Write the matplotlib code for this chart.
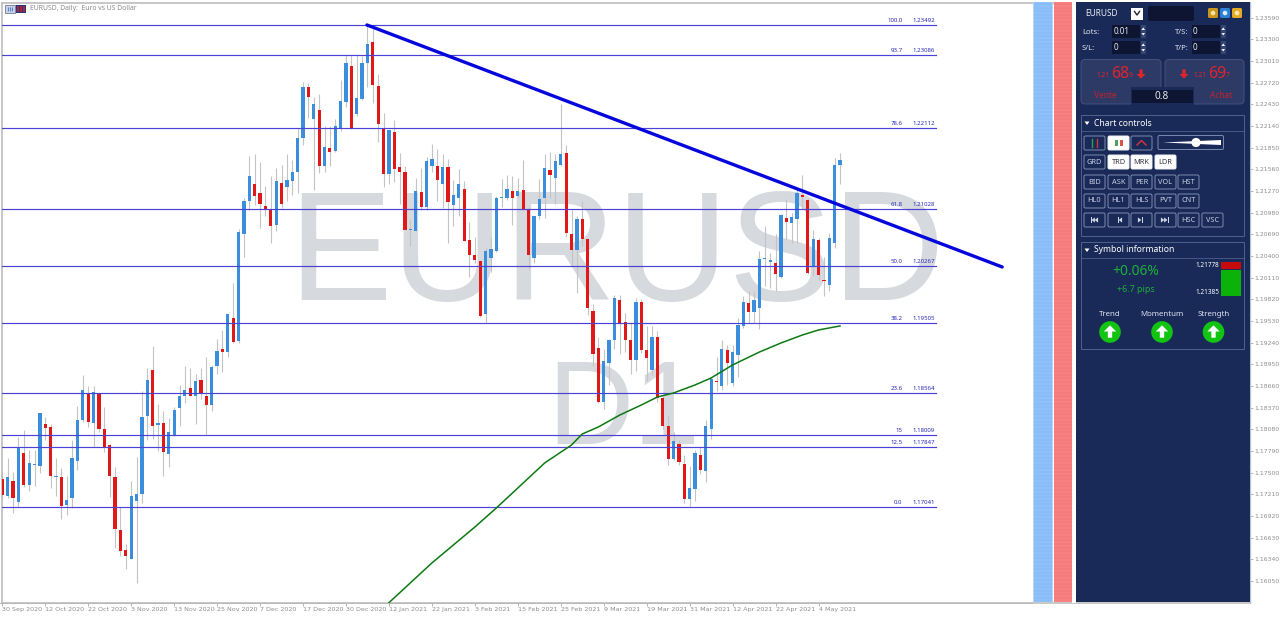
#!/usr/bin/env python3
"""EURUSD daily chart with fib levels, trend line and the trading side panel."""

from __future__ import annotations

import matplotlib

matplotlib.use("Agg")
import matplotlib.pyplot as plt
import numpy as np
from matplotlib.patches import Circle, FancyBboxPatch, Polygon, Rectangle

OPENS = [
    1.1742, 1.1719, 1.1739, 1.1711, 1.1777, 1.1733, 1.1760, 1.1759, 1.1815, 1.1811,
    1.1744, 1.1744, 1.1707, 1.1716, 1.1766, 1.1821, 1.1855, 1.1817, 1.1855, 1.1808,
    1.1787, 1.1744, 1.1673, 1.1646, 1.1634, 1.1712, 1.1722, 1.1826, 1.1888, 1.1814,
    1.1817, 1.1775, 1.1801, 1.1837, 1.1853, 1.1863, 1.1852, 1.1874, 1.1853, 1.1840,
    1.1893, 1.1915, 1.1911, 1.1957, 1.1926, 1.2069, 1.2113, 1.2137, 1.2124, 1.2107,
    1.2103, 1.2081, 1.2138, 1.2133, 1.2141, 1.2152, 1.2198, 1.2266, 1.2223, 1.2235,
    1.2161, 1.2184, 1.2181, 1.2210, 1.2246, 1.2294, 1.2230, 1.2250, 1.2298, 1.2327,
    1.2267, 1.2210, 1.2150, 1.2206, 1.2159, 1.2152, 1.2075, 1.2074, 1.2126, 1.2105,
    1.2161, 1.2161, 1.2137, 1.2159, 1.2108, 1.2118, 1.2130, 1.2061, 1.2041, 1.2033,
    1.1962, 1.2037, 1.2047, 1.2118, 1.2118, 1.2127, 1.2120, 1.2129, 1.2103, 1.2037,
    1.2093, 1.2118, 1.2155, 1.2145, 1.2162, 1.2178, 1.2070, 1.2048, 1.2089, 1.2063,
    1.1966, 1.1917, 1.1845, 1.1897, 1.1927, 1.1981, 1.1952, 1.1927, 1.1901, 1.1979,
    1.1914, 1.1887, 1.1932, 1.1850, 1.1813, 1.1768, 1.1789, 1.1762, 1.1715, 1.1728,
    1.1774, 1.1752, 1.1809, 1.1873, 1.1866, 1.1914, 1.1870, 1.1908, 1.1946, 1.1977,
    1.1965, 1.1971, 1.2036, 1.2032, 1.2030, 1.2012, 1.2091, 1.2084, 1.2090, 1.2122,
    1.2115, 1.2026, 1.2062, 1.2008, 1.2001, 1.2057, 1.2162,
]
HIGHS = [
    1.1751, 1.1769, 1.1751, 1.1798, 1.1807, 1.1781, 1.1781, 1.1830, 1.1825, 1.1815,
    1.1770, 1.1756, 1.1746, 1.1794, 1.1839, 1.1881, 1.1866, 1.1866, 1.1855, 1.1838,
    1.1789, 1.1758, 1.1704, 1.1654, 1.1739, 1.1771, 1.1859, 1.1890, 1.1920, 1.1842,
    1.1832, 1.1823, 1.1838, 1.1868, 1.1893, 1.1890, 1.1882, 1.1890, 1.1905, 1.1894,
    1.1929, 1.1941, 1.1963, 1.2004, 1.2076, 1.2118, 1.2174, 1.2177, 1.2166, 1.2134,
    1.2147, 1.2158, 1.2162, 1.2176, 1.2169, 1.2211, 1.2273, 1.2271, 1.2253, 1.2257,
    1.2214, 1.2214, 1.2223, 1.2275, 1.2309, 1.2309, 1.2309, 1.2307, 1.2349, 1.2345,
    1.2284, 1.2232, 1.2209, 1.2222, 1.2178, 1.2161, 1.2089, 1.2144, 1.2158, 1.2172,
    1.2190, 1.2183, 1.2176, 1.2170, 1.2142, 1.2156, 1.2140, 1.2086, 1.2065, 1.2035,
    1.2051, 1.2065, 1.2120, 1.2143, 1.2149, 1.2147, 1.2145, 1.2169, 1.2106, 1.2094,
    1.2143, 1.2176, 1.2179, 1.2176, 1.2243, 1.2188, 1.2101, 1.2094, 1.2113, 1.2064,
    1.1976, 1.1931, 1.1915, 1.1929, 1.1988, 1.1988, 1.1964, 1.1952, 1.1984, 1.1982,
    1.1946, 1.1946, 1.1940, 1.1852, 1.1827, 1.1804, 1.1794, 1.1774, 1.1759, 1.1780,
    1.1785, 1.1820, 1.1878, 1.1905, 1.1928, 1.1921, 1.1921, 1.1957, 1.1986, 1.1993,
    1.1993, 1.2047, 1.2080, 1.2044, 1.2069, 1.2096, 1.2116, 1.2098, 1.2131, 1.2149,
    1.2117, 1.2075, 1.2064, 1.2039, 1.2071, 1.2171, 1.2178,
]
LOWS = [
    1.1713, 1.1716, 1.1696, 1.1704, 1.1731, 1.1725, 1.1732, 1.1749, 1.1794, 1.1730,
    1.1719, 1.1688, 1.1693, 1.1703, 1.1754, 1.1818, 1.1811, 1.1785, 1.1804, 1.1778,
    1.1718, 1.1649, 1.1638, 1.1621, 1.1634, 1.1602, 1.1710, 1.1794, 1.1795, 1.1779,
    1.1745, 1.1758, 1.1799, 1.1813, 1.1843, 1.1852, 1.1815, 1.1849, 1.1800, 1.1832,
    1.1882, 1.1885, 1.1905, 1.1923, 1.1924, 1.2039, 1.2101, 1.2108, 1.2078, 1.2094,
    1.2058, 1.2073, 1.2104, 1.2114, 1.2121, 1.2124, 1.2189, 1.2225, 1.2129, 1.2151,
    1.2153, 1.2161, 1.2179, 1.2207, 1.2240, 1.2210, 1.2227, 1.2249, 1.2266, 1.2245,
    1.2192, 1.2132, 1.2136, 1.2139, 1.2110, 1.2075, 1.2053, 1.2073, 1.2102, 1.2102,
    1.2153, 1.2114, 1.2104, 1.2058, 1.2080, 1.2093, 1.2060, 1.2012, 1.2030, 1.1958,
    1.1951, 1.2019, 1.2046, 1.2106, 1.2115, 1.2081, 1.2119, 1.2103, 1.2022, 1.2030,
    1.2089, 1.2091, 1.2118, 1.2109, 1.2160, 1.2065, 1.2027, 1.1991, 1.2053, 1.1961,
    1.1893, 1.1843, 1.1835, 1.1867, 1.1915, 1.1909, 1.1911, 1.1882, 1.1886, 1.1910,
    1.1873, 1.1881, 1.1845, 1.1809, 1.1760, 1.1767, 1.1760, 1.1710, 1.1704, 1.1712,
    1.1748, 1.1737, 1.1795, 1.1859, 1.1860, 1.1868, 1.1866, 1.1878, 1.1944, 1.1951,
    1.1951, 1.1942, 1.2000, 1.1997, 1.1993, 1.2011, 1.2062, 1.2057, 1.2057, 1.2103,
    1.2016, 1.2013, 1.2008, 1.1986, 1.1993, 1.2051, 1.2136,
]
CLOSES = [
    1.1720, 1.1744, 1.1716, 1.1785, 1.1733, 1.1763, 1.1761, 1.1830, 1.1810, 1.1745,
    1.1745, 1.1706, 1.1713, 1.1770, 1.1821, 1.1860, 1.1818, 1.1858, 1.1808, 1.1784,
    1.1746, 1.1675, 1.1645, 1.1639, 1.1719, 1.1722, 1.1824, 1.1874, 1.1813, 1.1816,
    1.1778, 1.1804, 1.1834, 1.1853, 1.1860, 1.1853, 1.1873, 1.1855, 1.1840, 1.1892,
    1.1913, 1.1912, 1.1963, 1.1925, 1.2072, 1.2114, 1.2147, 1.2120, 1.2109, 1.2103,
    1.2080, 1.2140, 1.2110, 1.2142, 1.2152, 1.2198, 1.2266, 1.2253, 1.2243, 1.2161,
    1.2186, 1.2179, 1.2214, 1.2248, 1.2298, 1.2210, 1.2252, 1.2298, 1.2324, 1.2269,
    1.2216, 1.2150, 1.2208, 1.2157, 1.2153, 1.2075, 1.2076, 1.2127, 1.2106, 1.2167,
    1.2170, 1.2142, 1.2159, 1.2112, 1.2122, 1.2136, 1.2060, 1.2042, 1.2035, 1.1960,
    1.2047, 1.2049, 1.2118, 1.2119, 1.2130, 1.2118, 1.2127, 1.2103, 1.2041, 1.2093,
    1.2116, 1.2158, 1.2148, 1.2167, 1.2177, 1.2071, 1.2048, 1.2090, 1.2063, 1.1971,
    1.1909, 1.1845, 1.1900, 1.1928, 1.1984, 1.1951, 1.1927, 1.1901, 1.1979, 1.1914,
    1.1904, 1.1932, 1.1850, 1.1813, 1.1768, 1.1793, 1.1764, 1.1715, 1.1729, 1.1777,
    1.1754, 1.1813, 1.1875, 1.1871, 1.1915, 1.1897, 1.1911, 1.1948, 1.1979, 1.1965,
    1.1981, 1.2036, 1.2037, 1.2034, 1.2016, 1.2095, 1.2085, 1.2092, 1.2124, 1.2119,
    1.2017, 1.2063, 1.2014, 1.2006, 1.2064, 1.2162, 1.2169,
]

DATE_LABELS = [
    "30 Sep 2020", "12 Oct 2020", "22 Oct 2020", "3 Nov 2020", "13 Nov 2020",
    "25 Nov 2020", "7 Dec 2020", "17 Dec 2020", "30 Dec 2020", "12 Jan 2021",
    "22 Jan 2021", "3 Feb 2021", "15 Feb 2021", "25 Feb 2021", "9 Mar 2021",
    "19 Mar 2021", "31 Mar 2021", "12 Apr 2021", "22 Apr 2021", "4 May 2021",
]
PRICE_TICKS = [
    1.23590, 1.23300, 1.23010, 1.22720, 1.22430, 1.22140, 1.21850, 1.21560, 1.21270,
    1.20980, 1.20690, 1.20400, 1.20110, 1.19820, 1.19530, 1.19240, 1.18950, 1.18660,
    1.18370, 1.18080, 1.17790, 1.17500, 1.17210, 1.16920, 1.16630, 1.16340, 1.16050,
]

FIB_NAMES = ["100.0", "93.7", "78.6", "61.8", "50.0", "38.2", "23.6", "15", "12.5", "0.0"]
FIB_PRICES = [1.23492, 1.23086, 1.22112, 1.21028, 1.20267, 1.19505, 1.18564, 1.18009, 1.17847, 1.17041]

TREND_BARS = [67.9, 186.2]
TREND_PRICES = [1.23492, 1.20253]

MA_BARS = [72, 80, 88, 92, 96, 101, 106, 108, 111, 115, 119, 122, 125, 129, 132, 136, 141, 145, 149, 152, 156]
MA_PRICES = [
    1.15760, 1.16292, 1.16773, 1.17028, 1.17295, 1.17630, 1.17871, 1.18018, 1.18112, 1.18272, 1.18406,
    1.18513, 1.18567, 1.18674, 1.18768, 1.18942, 1.19115, 1.19236, 1.19343, 1.19410, 1.19464,
]

BUTTON_ROWS = [
    (155, ["GRD", "TRD", "MRK", "LDR"]),
    (175, ["BID", "ASK", "PER", "VOL", "HST"]),
    (194, ["HL0", "HL1", "HLS", "PVT", "CNT"]),
    (213, ["", "", "", "", "HSC", "VSC"]),
]
WHITE_BUTTONS = ["TRD", "MRK", "LDR"]
INDICATORS = ["Trend", "Momentum", "Strength"]

BLUE = "#3a8edb"
RED = "#e01818"
WICK = "#c4c4c4"
FIB = "#4a42d4"
NAVY = "#1a2a58"
INK = "#0d1533"
LINE = "#5a6a96"
PANEL_FONT = ["Noto Sans", "DejaVu Sans"]
CHART_FONT = "Liberation Sans"
BAR_PX = 5.37


def bar_at(px: float) -> float:
    return (px - 2.3) / BAR_PX


def draw_chart(ax: plt.Axes) -> None:
    ax.set_xlim(bar_at(2), bar_at(1250))
    ax.set_ylim(1.15756, 1.23786)

    # watermark sits under everything
    ax.text(bar_at(288), 1.17041 + (507 - 300) * 1.3384e-4, "EURUSD", family=CHART_FONT, fontsize=112,
            color="#d6d9de", ha="left", va="baseline", zorder=1)
    ax.text(bar_at(547), 1.17041 + (507 - 444) * 1.3384e-4, "D1", family=CHART_FONT, fontsize=86,
            color="#d6d9de", ha="left", va="baseline", zorder=1)

    bars = np.arange(len(OPENS))
    opens = np.array(OPENS)
    closes = np.array(CLOSES)
    colors = [BLUE if c >= o else RED for o, c in zip(opens, closes)]
    ax.vlines(bars, LOWS, HIGHS, color=WICK, lw=0.8, zorder=2)
    ax.bar(bars, np.abs(closes - opens), bottom=np.minimum(opens, closes), width=0.6, color=colors, lw=0, zorder=3)

    for name, price in zip(FIB_NAMES, FIB_PRICES):
        ax.plot([bar_at(2), bar_at(935.5)], [price, price], color=FIB, lw=0.85, zorder=4)
        ax.annotate(name, (bar_at(902.5), price), xytext=(0, 1.4), textcoords="offset points",
                    ha="right", va="bottom", fontsize=4.4, color="#2a2ab8", family=PANEL_FONT, zorder=7)
        ax.annotate(f"{price:.5f}", (bar_at(935), price), xytext=(0, 1.4), textcoords="offset points",
                    ha="right", va="bottom", fontsize=4.4, color="#2a2ab8", family=PANEL_FONT, zorder=7)

    ax.plot(MA_BARS, MA_PRICES, color="#0b7a12", lw=1.1, zorder=5)
    ax.plot(TREND_BARS, TREND_PRICES, color="#0606dc", lw=2.4, solid_capstyle="round", zorder=6)

    ax.yaxis.tick_right()
    ax.set_yticks(PRICE_TICKS)
    ax.set_yticklabels([f"{p:.5f}" for p in PRICE_TICKS])
    ax.tick_params(axis="y", length=2.2, width=0.6, color="#a8a8a8", labelsize=4.4, labelcolor="#8e8e8e", pad=1)
    ax.set_xticks(range(0, 8 * len(DATE_LABELS), 8))
    ax.set_xticklabels(DATE_LABELS, ha="left")
    ax.tick_params(axis="x", length=2.2, width=0.6, color="#a8a8a8", labelsize=4.6, labelcolor="#8e8e8e", pad=0.6)
    for side in ["top", "left", "bottom"]:
        ax.spines[side].set_color("#b8b8b8")
        ax.spines[side].set_linewidth(1.1)
    ax.spines["right"].set_color("#b9c6d8")
    ax.spines["right"].set_linewidth(1.0)


def rect(ui: plt.Axes, x0: float, y0: float, x1: float, y1: float, fc: str, ec: str = "none", lw: float = 0.7) -> None:
    ui.add_patch(Rectangle((x0, y0), x1 - x0, y1 - y0, fc=fc, ec=ec, lw=lw))


def rounded(ui: plt.Axes, x0: float, y0: float, x1: float, y1: float, fc: str, ec: str = "none", lw: float = 0.7, r: float = 2) -> None:
    ui.add_patch(FancyBboxPatch((x0 + r, y0 + r), x1 - x0 - 2 * r, y1 - y0 - 2 * r,
                                boxstyle=f"round,pad={r}", fc=fc, ec=ec, lw=lw))


def label(ui: plt.Axes, x: float, y: float, s: str, size: float = 5.6, color: str = "white", ha: str = "center", **kw) -> None:
    ui.text(x, y, s, fontsize=size, color=color, ha=ha, va="center", family=PANEL_FONT, **kw)


def arrow(ui: plt.Axes, cx: float, cy: float, size: float, color: str, up: bool = False) -> None:
    s = -1 if up else 1
    pts = [(cx - size * 0.35, cy - s * size), (cx + size * 0.35, cy - s * size), (cx + size * 0.35, cy),
           (cx + size, cy), (cx, cy + s * size), (cx - size, cy), (cx - size * 0.35, cy)]
    ui.add_patch(Polygon(pts, fc=color, ec="none"))


def spinner(ui: plt.Axes, x: float, y: float) -> None:
    rect(ui, x, y, x + 5.5, y + 13, "#33466f")
    ui.add_patch(Polygon([(x + 1, y + 5), (x + 4.5, y + 5), (x + 2.75, y + 2.5)], fc="white", ec="none"))
    ui.add_patch(Polygon([(x + 1, y + 8), (x + 4.5, y + 8), (x + 2.75, y + 10.5)], fc="white", ec="none"))


def button(ui: plt.Axes, x: float, y: float, text: str = "", white: bool = False) -> None:
    rounded(ui, x, y, x + 21, y + 14, "white" if white else NAVY, "#eef0f4" if white else "#7c8bb0", 0.7, 1.5)
    if text:
        label(ui, x + 10.5, y + 7, text, 5.3, "#334" if white else "#c8d0e2")


def media_glyph(ui: plt.Axes, cx: float, cy: float, direction: int, double: bool) -> None:
    color = "#d0d6e4"
    tips = [0, direction * 3.2] if double else [0]
    for off in tips:
        x = cx + off - direction * 1.6
        ui.add_patch(Polygon([(x - direction * 2, cy - 2.6), (x - direction * 2, cy + 2.6), (x + direction * 1.4, cy)], fc=color, ec="none"))
    bar_x = cx + (tips[-1] if double else 0) + direction * 0.2
    rect(ui, bar_x, cy - 2.8, bar_x + 1.1, cy + 2.8, color)


def draw_columns(ui: plt.Axes) -> None:
    rect(ui, 1033, 1.5, 1053.3, 602, "#bcd6e6")
    rect(ui, 1033.8, 2, 1052.3, 601.5, "#8ec0fb")
    rect(ui, 1054, 2, 1072.4, 601.5, "#f98080")
    rect(ui, 1072.4, 0, 1075.5, 603, "white")
    for y in np.arange(4, 600, 3.6):
        ui.plot([1034, 1052.2], [y, y], color="#7fb2ee", lw=0.35)
        ui.plot([1054, 1072.3], [y, y], color="#ea7070", lw=0.35)


def draw_trade_box(ui: plt.Axes) -> None:
    label(ui, 1085, 13.5, "EURUSD", 6.0, "#e8ecf4", "left")
    rect(ui, 1131, 7.5, 1143, 19.5, "white")
    ui.plot([1134.5, 1137, 1139.5], [11.5, 15, 11.5], color="#223", lw=1.0)
    rounded(ui, 1148, 6, 1194, 21, INK, r=2)
    for x0, color, dot in [(1208, "#c9971c", "#f4e3a8"), (1220, "#2b7fd4", "#dceefe"), (1232, "#e2ab23", "#f8e7b0")]:
        rounded(ui, x0, 8, x0 + 10, 18, color, r=1.5)
        ui.add_patch(Circle((x0 + 5, 13), 2.3, fc=dot, ec="none"))

    for y, left, right in [(25, "Lots:", "T/S:"), (41, "S/L:", "T/P:")]:
        label(ui, 1082, y + 7, left, 5.5, "#dde2ee", "left")
        label(ui, 1175, y + 7, right, 5.5, "#dde2ee", "left")
        rect(ui, 1112, y, 1140, y + 13, INK)
        rect(ui, 1192, y, 1219.5, y + 13, INK)
        spinner(ui, 1140.5, y)
        spinner(ui, 1220.5, y)
    label(ui, 1114, 32, "0.01", 5.8, "#e6eaf2", "left")
    label(ui, 1114, 48, "0", 5.8, "#e6eaf2", "left")
    label(ui, 1193, 32, "0", 5.8, "#e6eaf2", "left")
    label(ui, 1193, 48, "0", 5.8, "#e6eaf2", "left")

    rounded(ui, 1081, 59.5, 1161, 104, "#2d3a66", "#475684", 0.6, 4)
    rounded(ui, 1165, 59.5, 1244, 104, "#2d3a66", "#475684", 0.6, 4)
    rect(ui, 1131, 87, 1194, 106, NAVY)
    rect(ui, 1131.5, 89.5, 1193, 103, INK)
    label(ui, 1162, 96.5, "0.8", 7.2, "#e6eaf2")

    sell = "#e0242e"
    label(ui, 1096, 75.5, "1.21", 4.7, sell, "left")
    label(ui, 1111, 73.5, "68", 11.5, sell, "left")
    label(ui, 1129, 75.5, "9", 5.0, sell, "left")
    arrow(ui, 1141, 74, 4.6, sell)
    arrow(ui, 1184, 74, 4.6, sell)
    label(ui, 1193, 75.5, "1.21", 4.7, sell, "left")
    label(ui, 1208, 73.5, "69", 11.5, sell, "left")
    label(ui, 1226, 75.5, "7", 5.0, sell, "left")
    label(ui, 1105, 96, "Vente", 6.0, "#c3202e")
    label(ui, 1221, 96, "Achat", 6.0, "#c3202e")


def draw_controls(ui: plt.Axes) -> None:
    rect(ui, 1081, 114.5, 1244, 236, "none", LINE, 0.6)
    ui.plot([1081, 1244], [131, 131], color=LINE, lw=0.5)
    ui.add_patch(Polygon([(1084.5, 121.5), (1089.5, 121.5), (1087, 125)], fc="white", ec="none"))
    label(ui, 1094, 123, "Chart controls", 6.2, "white", "left", fontweight="bold")

    button(ui, 1084, 136)
    button(ui, 1108, 136, white=True)
    button(ui, 1131, 136)
    ui.plot([1092, 1092], [139, 147], color="#2ea04a", lw=1.0)
    ui.plot([1097, 1097], [139, 147], color="#d8343c", lw=1.0)
    rect(ui, 1115, 140, 1118, 146, "#4ca45e")
    rect(ui, 1120, 139.5, 1123, 145.5, "#d9534f")
    ui.plot([1137, 1141.5, 1146], [145, 140.5, 145], color="#d8343c", lw=1.0)
    rounded(ui, 1158, 135.5, 1223.5, 149.5, NAVY, "#7c8bb0", 0.7, 1.5)
    ui.add_patch(Polygon([(1163, 142.5), (1221, 140), (1221, 145)], fc="white", ec="none"))
    ui.add_patch(Circle((1196, 142.5), 4.6, fc="white", ec="none"))

    xs = [1084, 1108, 1131, 1155, 1178, 1202]
    for y, names in BUTTON_ROWS:
        for x, name in zip(xs, names):
            button(ui, x, y, name, name in WHITE_BUTTONS)
    media_glyph(ui, 1094.5, 220, -1, True)
    media_glyph(ui, 1118.5, 220, -1, False)
    media_glyph(ui, 1141.5, 220, 1, False)
    media_glyph(ui, 1164.5, 220, 1, True)


def draw_symbol_info(ui: plt.Axes) -> None:
    rect(ui, 1081, 242, 1244, 349, "none", LINE, 0.6)
    ui.plot([1081, 1244], [258, 258], color=LINE, lw=0.5)
    ui.add_patch(Polygon([(1084.5, 248.5), (1089.5, 248.5), (1087, 252)], fc="white", ec="none"))
    label(ui, 1094, 250, "Symbol information", 6.2, "white", "left", fontweight="bold")
    label(ui, 1135.5, 271.5, "+0.06%", 10, "#1fae3a")
    label(ui, 1135.5, 290, "+6.7 pips", 6.4, "#1fae3a")
    label(ui, 1219, 265.5, "1.21778", 4.6, "white", "right")
    label(ui, 1219, 292, "1.21385", 4.6, "white", "right")
    rect(ui, 1221, 262, 1241, 269, "#c80a0a")
    rect(ui, 1221, 270, 1241, 296, "#0ab20a")
    for cx, name in zip([1110, 1162, 1213.5], INDICATORS):
        label(ui, cx, 314, name, 5.7, "#dde2ee")
        ui.add_patch(Circle((cx, 332), 10.8, fc="#12c312", ec="none"))
        arrow(ui, cx, 331.5, 6.2, "white", up=True)


def draw_panel(ui: plt.Axes) -> None:
    draw_columns(ui)
    rect(ui, 1075.5, 1.5, 1250, 602, NAVY)
    rect(ui, 0, 602.7, 1033, 603.5, "#b8b8b8")
    draw_trade_box(ui)
    draw_controls(ui)
    draw_symbol_info(ui)


def draw_header(ui: plt.Axes) -> None:
    rect(ui, 5, 5, 15, 12.5, "#c9d4ea", "#70798c", 0.6)
    ui.vlines([8, 10, 12], 6.5, 11, color="#5e86c4", lw=0.8)
    rect(ui, 16, 5, 26, 12.5, "#243a80")
    ui.vlines([18, 20.5, 23.5], 5.5, 12, color="#d82020", lw=1.1)
    label(ui, 30, 8.5, "EURUSD, Daily:  Euro vs US Dollar", 4.9, "#8a8a8a", "left")


def main() -> None:
    fig = plt.figure(figsize=(12.8, 6.17), dpi=100, facecolor="white")
    ax = fig.add_axes([2 / 1280, 14 / 617, 1248 / 1280, 600 / 617])
    draw_chart(ax)

    ui = fig.add_axes([0, 0, 1, 1], facecolor="none", zorder=5)
    ui.set_xlim(0, 1280)
    ui.set_ylim(617, 0)
    ui.axis("off")
    draw_panel(ui)
    draw_header(ui)
    fig.savefig("out.png", dpi=100)


if __name__ == "__main__":
    main()
